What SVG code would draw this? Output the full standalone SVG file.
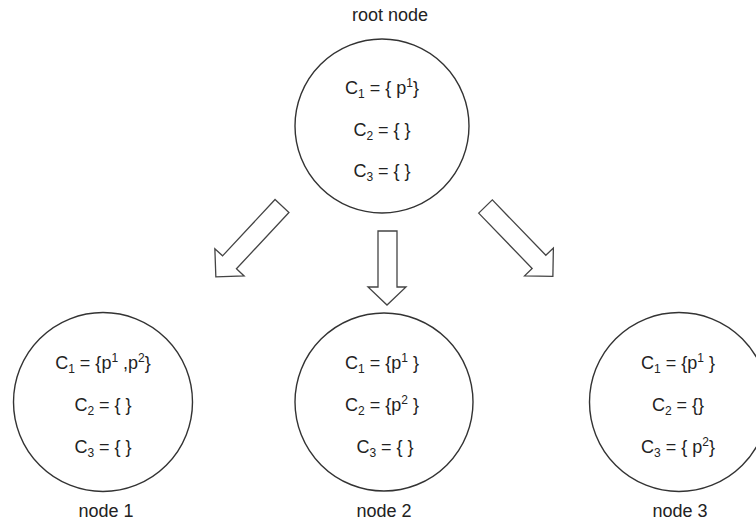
<svg xmlns="http://www.w3.org/2000/svg" width="756" height="525" viewBox="0 0 756 525">
<style>
.c{fill:#fff;stroke:#333;stroke-width:1.4}
.t{font-family:"Liberation Sans",Arial,sans-serif;font-size:18px;fill:#222;text-anchor:middle}
.s{font-size:12px}
.a{fill:#fff;stroke:#444;stroke-width:1.3;stroke-linejoin:miter}
</style>
<defs>
<polygon id="sideArrow" points="-9.5,0 9.5,0 9.5,77 20,77 0,97 -20,77 -9.5,77"/>
</defs>
<rect width="756" height="525" fill="#fff"/>
<g id="connectors">
<polygon class="a" points="378,231 397,231 397,287 406,287 387,305 368,287 378,287"/>
<use href="#sideArrow" class="a" transform="translate(282,206) rotate(43)"/>
<use href="#sideArrow" class="a" transform="translate(485.5,206.5) rotate(-44)"/>
</g>
<g id="root">
<text class="t" x="390" y="21">root node</text>
<circle class="c" cx="382" cy="126" r="87"/>
<text class="t" x="382" y="94">C<tspan class="s" dy="4">1</tspan><tspan dy="-4"> = { p</tspan><tspan class="s" dy="-7">1</tspan><tspan dy="7">}</tspan></text>
<text class="t" x="382" y="136">C<tspan class="s" dy="4">2</tspan><tspan dy="-4"> = { }</tspan></text>
<text class="t" x="382" y="177">C<tspan class="s" dy="4">3</tspan><tspan dy="-4"> = { }</tspan></text>
</g>
<g id="node1">
<circle class="c" cx="103" cy="402" r="89.5"/>
<text class="t" x="103" y="369">C<tspan class="s" dy="4">1</tspan><tspan dy="-4"> = {p</tspan><tspan class="s" dy="-7">1</tspan><tspan dy="7"> ,p</tspan><tspan class="s" dy="-7">2</tspan><tspan dy="7">}</tspan></text>
<text class="t" x="103" y="411">C<tspan class="s" dy="4">2</tspan><tspan dy="-4"> = { }</tspan></text>
<text class="t" x="103" y="453">C<tspan class="s" dy="4">3</tspan><tspan dy="-4"> = { }</tspan></text>
<text class="t" x="106" y="517">node 1</text>
</g>
<g id="node2">
<circle class="c" cx="384" cy="402" r="89"/>
<text class="t" x="382" y="369">C<tspan class="s" dy="4">1</tspan><tspan dy="-4"> = {p</tspan><tspan class="s" dy="-7">1</tspan><tspan dy="7"> }</tspan></text>
<text class="t" x="382" y="411">C<tspan class="s" dy="4">2</tspan><tspan dy="-4"> = {p</tspan><tspan class="s" dy="-7">2</tspan><tspan dy="7"> }</tspan></text>
<text class="t" x="385" y="453">C<tspan class="s" dy="4">3</tspan><tspan dy="-4"> = { }</tspan></text>
<text class="t" x="384" y="517">node 2</text>
</g>
<g id="node3">
<circle class="c" cx="679" cy="402" r="89.5"/>
<text class="t" x="678" y="369">C<tspan class="s" dy="4">1</tspan><tspan dy="-4"> = {p</tspan><tspan class="s" dy="-7">1</tspan><tspan dy="7"> }</tspan></text>
<text class="t" x="678" y="411">C<tspan class="s" dy="4">2</tspan><tspan dy="-4"> = {}</tspan></text>
<text class="t" x="678" y="453">C<tspan class="s" dy="4">3</tspan><tspan dy="-4"> = { p</tspan><tspan class="s" dy="-7">2</tspan><tspan dy="7">}</tspan></text>
<text class="t" x="680" y="517">node 3</text>
</g>
</svg>
